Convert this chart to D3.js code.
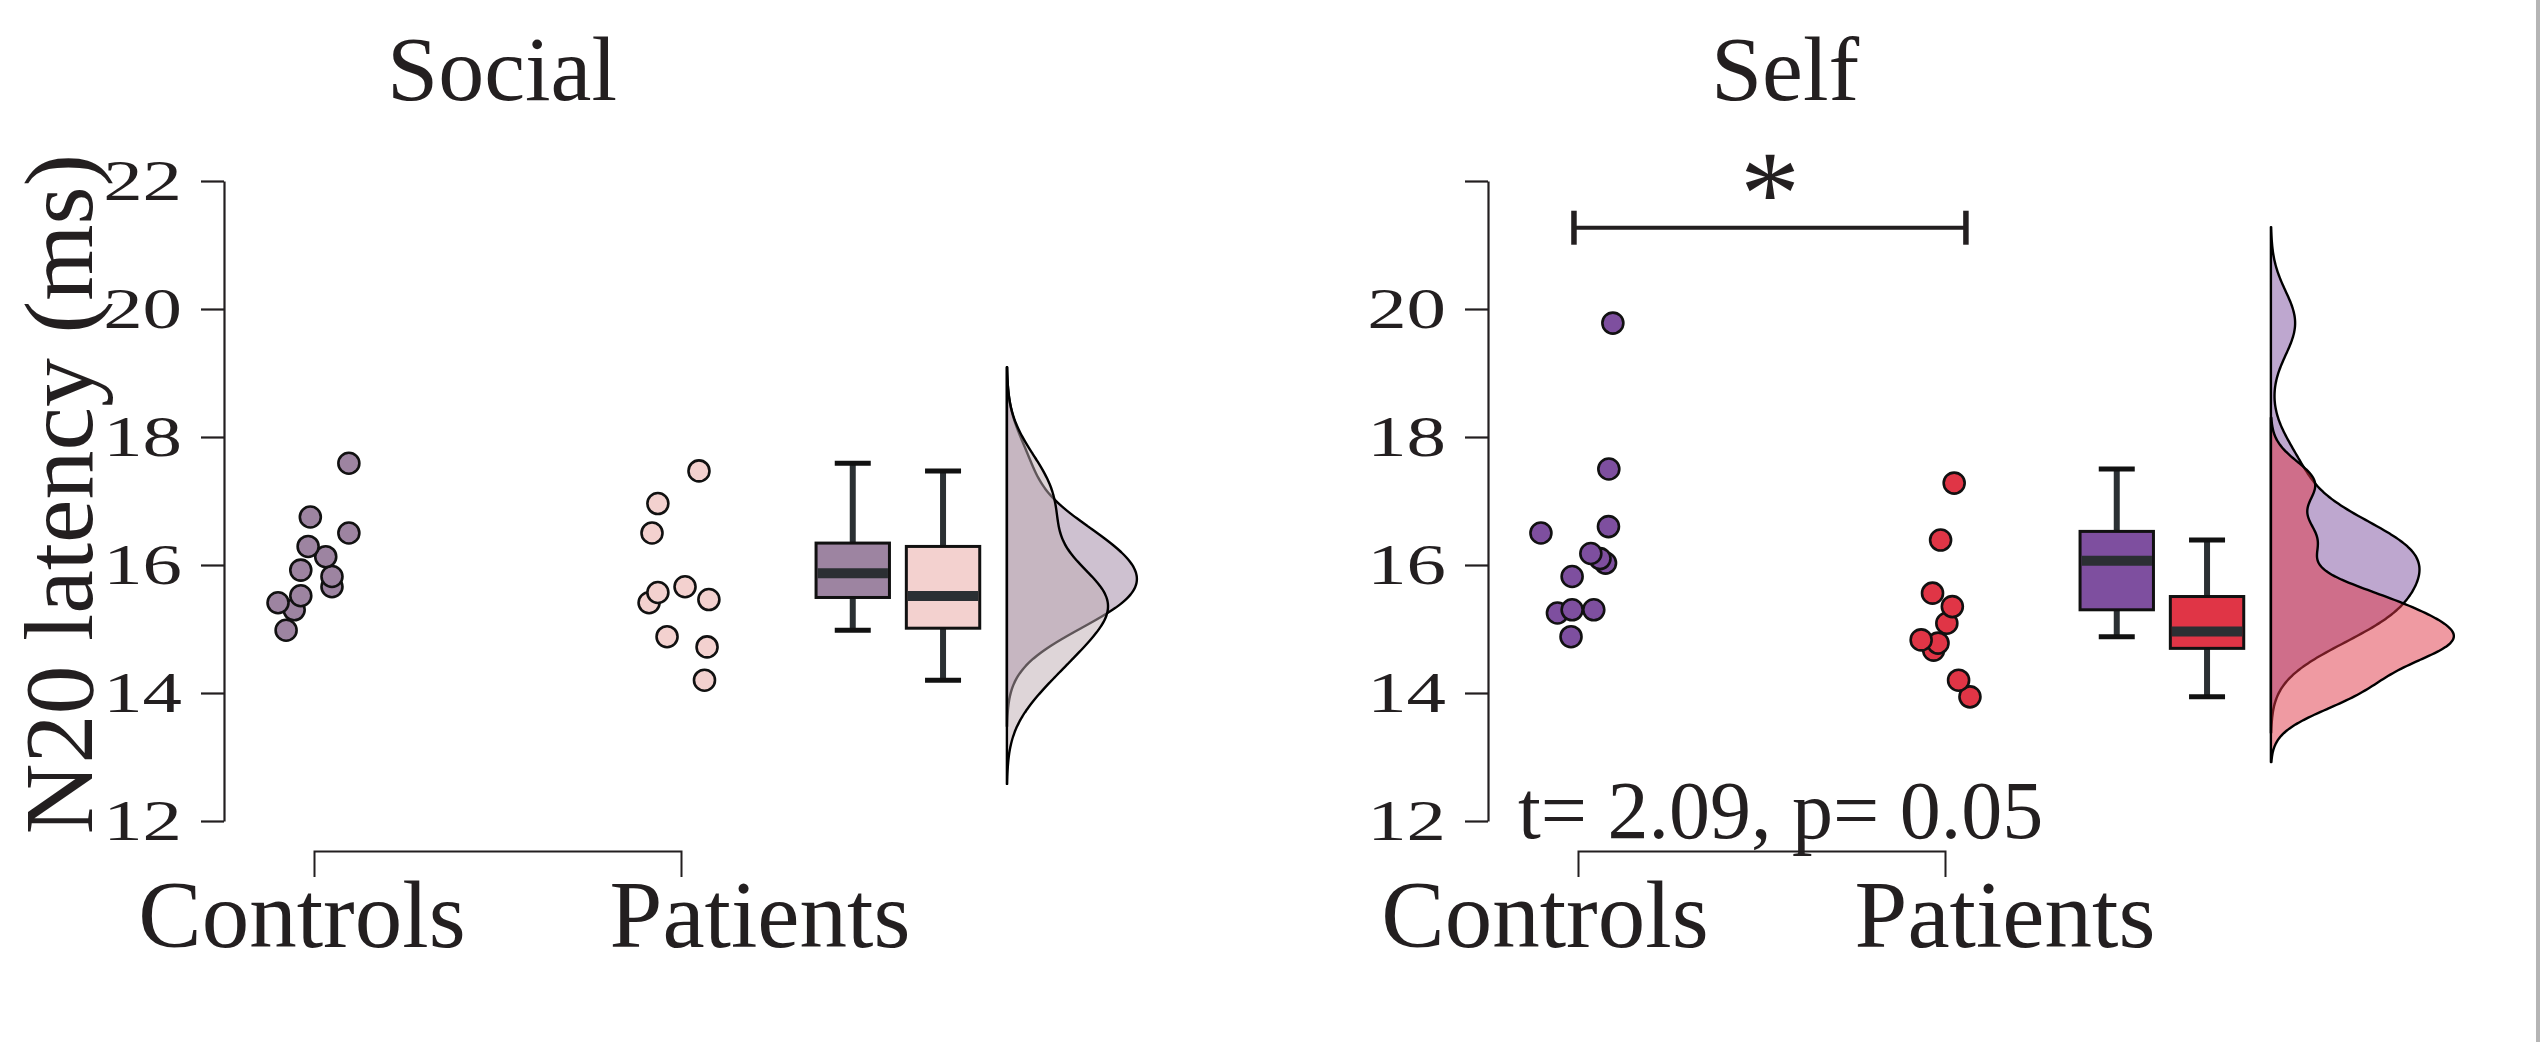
<!DOCTYPE html>
<html><head><meta charset="utf-8">
<script src="https://cdn.jsdelivr.net/npm/d3@7"></script>
<style>
body{margin:0;background:#fff}
svg{display:block}
text{font-family:'Liberation Serif',serif;fill:#231f20}
</style>
</head><body>
<svg id="chart" width="2544" height="1042"></svg>
<script>
// ---------------- data ----------------
const panelTitles = ["Social", "Self"];
const groupNames = ["Controls", "Patients"];
const yTickValues = [12, 14, 16, 18, 20, 22];
const yTickLabelsSocial = ["12", "14", "16", "18", "20", "22"];
const yTickLabelsSelf = ["12", "14", "16", "18", "20", ""];
const yAxisTitle = "N20 latency (ms)";

const socialControls = [17.59, 16.75, 16.50, 16.29, 16.13, 15.92, 15.82, 15.66, 15.52, 15.41, 15.30, 14.98];
const socialControlsJitter = [0.095, -0.010, 0.095, -0.016, 0.032, -0.036, 0.049, 0.049, -0.036, -0.098, -0.054, -0.076];
const socialPatients = [17.47, 16.96, 16.50, 15.66, 15.57, 15.46, 15.41, 14.88, 14.72, 14.20];
const socialPatientsJitter = [0.049, -0.063, -0.079, 0.011, -0.063, 0.076, -0.087, -0.038, 0.071, 0.064];

const selfControls = [19.78, 17.50, 16.60, 16.50, 16.18, 16.10, 16.03, 15.82, 15.30, 15.30, 15.25, 14.88];
const selfControlsJitter = [0.095, 0.084, 0.083, -0.101, 0.035, 0.060, 0.075, -0.016, -0.016, 0.043, -0.056, -0.019];
const selfPatients = [17.28, 16.39, 15.56, 15.35, 15.09, 14.83, 14.78, 14.67, 14.20, 13.94];
const selfPatientsJitter = [0.025, -0.012, -0.034, 0.020, 0.005, -0.065, -0.019, -0.031, 0.037, 0.068];

// kernel bandwidths read from the density extents
const socialBandwidths = [0.50, 0.54];
const selfBandwidths = [0.50, 0.34];

const significanceLabel = "*";
const significanceSpan = [0.989, 2.057];
const significanceLevel = 21.27;
const testLabel = "t= 2.09, p= 0.05";

// ---------------- styling / layout ----------------
const socialColors = ["#9d84a1", "#f3d1cf"];
const socialDensityColors = ["#9d84a1", "#bdabb1"];
const selfColors = ["#7e4f9f", "#e03546"];
const selfDensityColors = ["#7e4f9f", "#e03546"];

const panels = [
  { title: panelTitles[0], axisX: 224, titleX: 502, data: [socialControls, socialPatients],
    jitter: [socialControlsJitter, socialPatientsJitter], bw: socialBandwidths,
    colors: socialColors, dcolors: socialDensityColors, tickLabels: yTickLabelsSocial,
    labelOffsets: [-12, 79], peak: 130, sig: false },
  { title: panelTitles[1], axisX: 1488, titleX: 1785, data: [selfControls, selfPatients],
    jitter: [selfControlsJitter, selfPatientsJitter], bw: selfBandwidths,
    colors: selfColors, dcolors: selfDensityColors, tickLabels: yTickLabelsSelf,
    labelOffsets: [-33, 60], peak: 183, sig: true }
];

const svg = d3.select("#chart");
const y = d3.scaleLinear().domain([12, 22]).range([821, 181]);

function kde(values, bw, n = 240) {
  const lo = d3.min(values) - 3 * bw, hi = d3.max(values) + 3 * bw;
  return d3.range(n + 1).map(i => {
    const v = lo + (hi - lo) * i / n;
    const d = d3.mean(values, xv => Math.exp(-0.5 * ((v - xv) / bw) ** 2)) / (bw * Math.sqrt(2 * Math.PI));
    return [v, d];
  });
}

function boxStats(values) {
  const s = values.slice().sort(d3.ascending);
  const q1 = d3.quantile(s, 0.25), med = d3.quantile(s, 0.5), q3 = d3.quantile(s, 0.75);
  const iqr = q3 - q1;
  const lo = d3.min(s.filter(v => v >= q1 - 1.5 * iqr));
  const hi = d3.max(s.filter(v => v <= q3 + 1.5 * iqr));
  return { q1, med, q3, lo, hi };
}

// Y axis title
svg.append("text")
  .attr("transform", "translate(92,494) rotate(-90)")
  .attr("text-anchor", "middle")
  .style("font-size", "98px")
  .text(yAxisTitle);

panels.forEach(p => {
  const g = svg.append("g");
  const x = d3.scaleLinear().domain([1, 2]).range([p.axisX + 90, p.axisX + 457]);

  // title
  g.append("text").attr("x", p.titleX).attr("y", 100)
    .attr("text-anchor", "middle").style("font-size", "92px").text(p.title);

  // y axis
  const yAxis = d3.axisLeft(y).tickValues(yTickValues).tickSize(23).tickSizeOuter(0).tickFormat("");
  const ya = g.append("g").attr("transform", `translate(${p.axisX},0)`).call(yAxis);
  ya.select(".domain").attr("stroke", "#231f20").attr("stroke-width", 2.2);
  ya.selectAll(".tick line").attr("stroke", "#231f20").attr("stroke-width", 2.2);

  yTickValues.forEach((v, i) => {
    g.append("text")
      .attr("transform", `translate(${p.axisX - 42},${y(v) + 19}) scale(1.36,1)`)
      .attr("text-anchor", "end").style("font-size", "58px")
      .text(p.tickLabels[i]);
  });

  // x bracket axis
  const xAxis = d3.axisBottom(x).tickValues([]).tickSizeOuter(26);
  const xa = g.append("g").attr("transform", "translate(0,851)").call(xAxis);
  xa.select(".domain").attr("stroke", "#231f20").attr("stroke-width", 2);
  groupNames.forEach((name, i) => {
    g.append("text").attr("x", x(i + 1) + p.labelOffsets[i]).attr("y", 947)
      .attr("text-anchor", "middle").style("font-size", "95px").text(name);
  });

  // densities
  const dens = p.data.map((vals, i) => kde(vals, p.bw[i]));
  const dmax = d3.max(dens, d => d3.max(d, e => e[1]));
  const base = x(2.888);
  const w = d3.scaleLinear().domain([0, dmax]).range([0, p.peak]);
  const area = d3.area().curve(d3.curveBasis)
    .y(d => y(d[0])).x0(base).x1(d => base + w(d[1]));
  dens.forEach((d, i) => {
    g.append("path").attr("d", area(d))
      .attr("fill", p.dcolors[i]).attr("fill-opacity", 0.5)
      .attr("stroke", "#000").attr("stroke-width", 2.4).attr("stroke-linejoin", "round");
  });

  // boxes
  const boxPos = [2.468, 2.714];
  const bw = x(1.2) - x(1);
  p.data.forEach((vals, i) => {
    const s = boxStats(vals);
    const cx = x(boxPos[i]);
    g.append("line").attr("x1", cx).attr("x2", cx).attr("y1", y(s.hi)).attr("y2", y(s.lo))
      .attr("stroke", "#2b3033").attr("stroke-width", 6);
    [s.hi, s.lo].forEach(v => {
      g.append("line").attr("x1", cx - 18).attr("x2", cx + 18).attr("y1", y(v)).attr("y2", y(v))
        .attr("stroke", "#111").attr("stroke-width", 5);
    });
    g.append("rect").attr("x", cx - bw / 2).attr("width", bw)
      .attr("y", y(s.q3)).attr("height", y(s.q1) - y(s.q3))
      .attr("fill", p.colors[i]).attr("stroke", "#111").attr("stroke-width", 3);
    g.append("line").attr("x1", cx - bw / 2 + 1.5).attr("x2", cx + bw / 2 - 1.5)
      .attr("y1", y(s.med)).attr("y2", y(s.med))
      .attr("stroke", "#2b2f33").attr("stroke-width", 10);
  });

  // points
  p.data.forEach((vals, i) => {
    g.append("g").selectAll("circle").data(vals.map((v, k) => [v, p.jitter[i][k]]).reverse())
      .join("circle")
      .attr("cx", d => x(i + 1 + d[1])).attr("cy", d => y(d[0])).attr("r", 10.5)
      .attr("fill", p.colors[i]).attr("stroke", "#111").attr("stroke-width", 2.6);
  });

  if (p.sig) {
    const sy = y(significanceLevel);
    const x0 = x(significanceSpan[0]), x1 = x(significanceSpan[1]);
    g.append("path").attr("d", `M${x0},${sy}H${x1}`).attr("stroke", "#231f20").attr("stroke-width", 4);
    [x0, x1].forEach(xx => g.append("line").attr("x1", xx).attr("x2", xx)
      .attr("y1", sy - 17).attr("y2", sy + 17).attr("stroke", "#231f20").attr("stroke-width", 5.5));
    g.append("text").attr("x", (x0 + x1) / 2).attr("y", sy + 6)
      .attr("text-anchor", "middle").style("font-size", "120px").text(significanceLabel);
    g.append("text").attr("x", p.axisX + 30).attr("y", 838)
      .style("font-size", "82px").text(testLabel);
  }
});

// thin frame line at the right edge
svg.append("line").attr("x1", 2538).attr("x2", 2538).attr("y1", 0).attr("y2", 1042)
  .attr("stroke", "#b5b5b5").attr("stroke-width", 4);
</script>
</body></html>
